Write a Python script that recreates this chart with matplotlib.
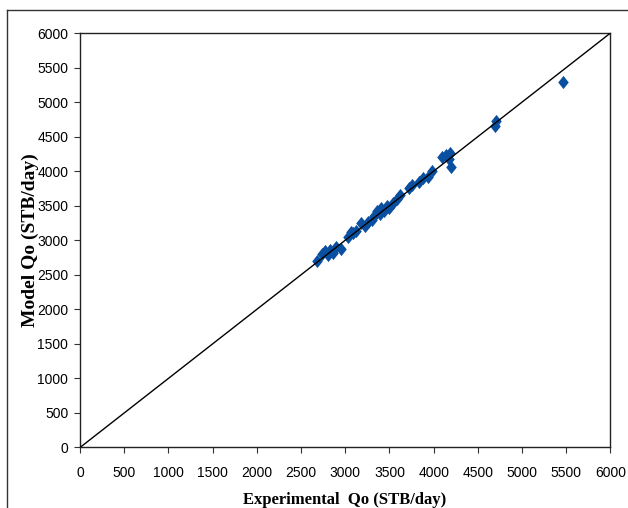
"""
Model vs experimental oil rate cross plot.
"""

import matplotlib.pyplot as plt
from matplotlib.lines import Line2D

# values
experimental_qo = [2680, 2740, 2770, 2800, 2830, 2860, 2900, 2950, 3030, 3060,
                   3090, 3120, 3180, 3220, 3260, 3300, 3330, 3360, 3390, 3410,
                   3440, 3470, 3500, 3540, 3580, 3620, 3720, 3760, 3830, 3880,
                   3940, 3980, 4100, 4140, 4170, 4190, 4200, 4690, 4710, 5460]
model_qo = [2700, 2800, 2850, 2780, 2860, 2820, 2900, 2880, 3050, 3120,
            3100, 3130, 3250, 3200, 3260, 3290, 3350, 3420, 3380, 3460,
            3430, 3490, 3470, 3540, 3600, 3650, 3760, 3800, 3850, 3900,
            3920, 4000, 4200, 4230, 4170, 4260, 4060, 4660, 4720, 5290]
unit_line = [0, 6000]
ticks = list(range(0, 6001, 500))

tick_font = ["Liberation Sans", "DejaVu Sans"]
label_font = ["Liberation Serif", "DejaVu Serif"]

# slightly tall diamond, like the stretched Excel marker
tall_diamond = [(-0.4, 0), (0, 0.5), (0.4, 0), (0, -0.5)]

fig = plt.figure(figsize=(6.28, 5.08), dpi=100)
ax = fig.add_axes([0.1274, 0.1191, 0.8447, 0.8159])

ax.plot(experimental_qo, model_qo, linestyle="none", marker=tall_diamond,
        markersize=9.5, color="#0a4fa0", markeredgewidth=0, zorder=2)
ax.plot(unit_line, unit_line, color="black", linewidth=1.0, zorder=3)

ax.set_xlim(0, 6000)
ax.set_ylim(0, 6000)
ax.set_xticks(ticks)
ax.set_yticks(ticks)
ax.set_xticklabels([str(t) for t in ticks], fontfamily=tick_font, fontsize=10)
ax.set_yticklabels([str(t) for t in ticks], fontfamily=tick_font, fontsize=10)
ax.tick_params(direction="out", length=4.5, width=0.8, color="#333333")
ax.tick_params(axis="x", pad=9)
ax.tick_params(axis="y", pad=4)
for spine in ax.spines.values():
    spine.set_linewidth(1.0)
    spine.set_color("#222222")

ax.set_xlabel("Experimental  Qo (STB/day)", fontfamily=label_font,
              fontweight="bold", fontsize=12)
ax.set_ylabel("Model Qo (STB/day)", fontfamily=label_font,
              fontweight="bold", fontsize=14)
ax.xaxis.set_label_coords(0.4995, -0.107)
ax.yaxis.set_label_coords(-0.077, 0.5)

# outer frame of the original figure (only top and left edges are visible)
fig.add_artist(Line2D([7 / 628, 1], [1 - 10 / 508, 1 - 10 / 508],
                      transform=fig.transFigure, color="#333333", linewidth=1.0))
fig.add_artist(Line2D([7 / 628, 7 / 628], [0, 1 - 10 / 508],
                      transform=fig.transFigure, color="#333333", linewidth=1.0))

plt.savefig("out.png", dpi=100)
